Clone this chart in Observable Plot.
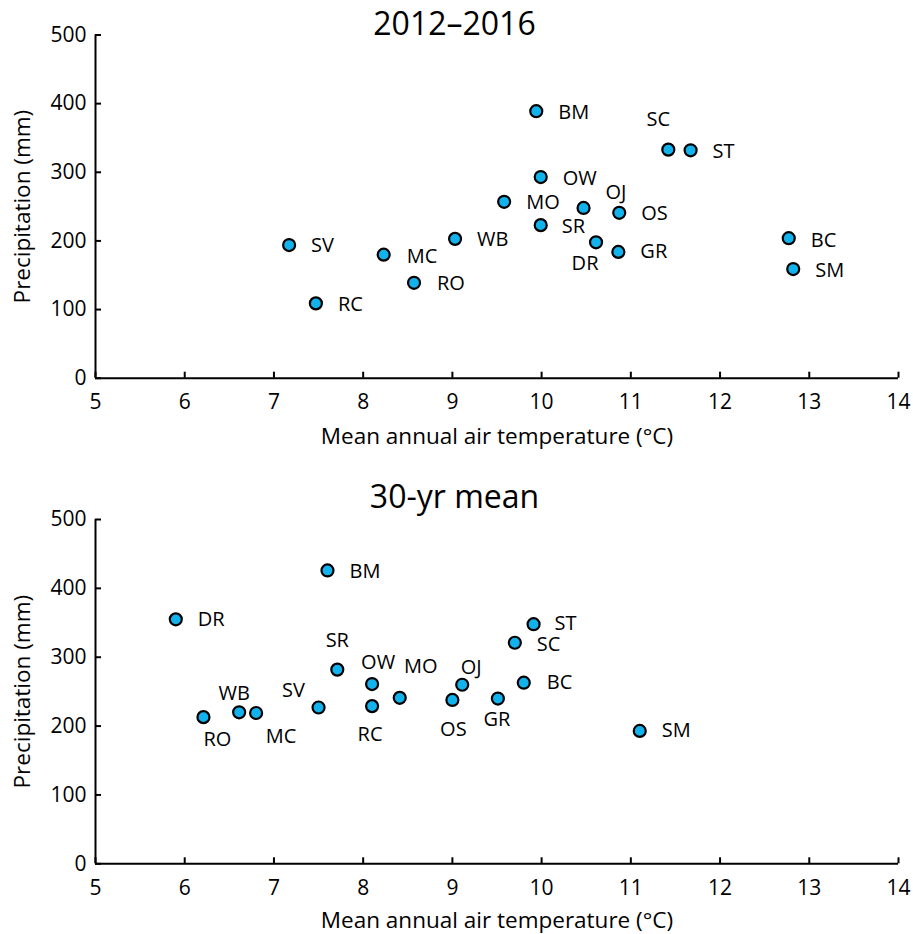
<!DOCTYPE html>
<html><head><meta charset="utf-8">
<script src="https://cdn.jsdelivr.net/npm/d3@7"></script>
<script src="https://cdn.jsdelivr.net/npm/@observablehq/plot@0.6"></script>
<style>body{margin:0;background:#fff;} svg{display:block}</style>
</head><body><div id="c"></div>
<script>
// ---- data ----
const xTicks = [5, 6, 7, 8, 9, 10, 11, 12, 13, 14];
const yTicks = [0, 100, 200, 300, 400, 500];

const title1 = "2012–2016";
const sites1  = ["SV","RC","MC","RO","WB","BM","SC","ST","OW","MO","OJ","OS","SR","DR","GR","BC","SM"];
const temp1   = [7.17,7.47,8.23,8.57,9.03,9.94,11.42,11.67,9.99,9.58,10.47,10.87,9.99,10.61,10.86,12.77,12.82];
const precip1 = [194,109,180,139,203,389,333,332,293,257,248,241,223,198,184,204,159];

const title2 = "30-yr mean";
const sites2  = ["DR","BM","RO","WB","MC","SV","SR","OW","RC","MO","OS","OJ","GR","ST","SC","BC","SM"];
const temp2   = [5.90,7.60,6.21,6.61,6.80,7.50,7.71,8.10,8.10,8.41,9.00,9.11,9.51,9.91,9.70,9.80,11.10];
const precip2 = [355,426,213,220,219,227,282,261,229,241,238,260,240,348,321,263,193];

const yLabel = "Precipitation (mm)";
const xLabel = "Mean annual air temperature (°C)";

// ---- label placement (layout, px offsets from each dot) ----
const R = [22, 1, "start"];
const place1 = {SV:R, RC:R, MC:[23,2,"start"], RO:[23,1,"start"], WB:R, BM:R, SC:[-10,-30,"middle"],
  ST:R, OW:[22,2,"start"], MO:R, OJ:[22,-15,"start"], OS:R, SR:[21,1,"start"], DR:[-11,21,"middle"],
  GR:[22,0,"start"], BC:[22,2,"start"], SM:[22,2,"start"]};
const place2 = {DR:[22,0,"start"], BM:R, RO:[14,22,"middle"], WB:[-5,-19,"middle"], MC:[25,24,"middle"],
  SV:[-25,-17,"middle"], SR:[0,-29,"middle"], OW:[6,-21,"middle"], RC:[-2,28,"middle"], MO:[21,-31,"middle"],
  OS:[1,30,"middle"], OJ:[9,-17,"middle"], GR:[-1,21,"middle"], ST:[21,-1,"start"], SC:[22,2,"start"],
  BC:[23,0,"start"], SM:[22,0,"start"]};

const W = 913, ML = 95, MR = 15;
const FONT = "'Open Sans', sans-serif";

function panel({title, sites, temp, precip, place, height, marginTop, marginBottom, titleDy, xLabelDy}) {
  const data = sites.map((s, i) => ({site: s, t: temp[i], p: precip[i]}));
  const plotH = height - marginTop - marginBottom;
  const plotW = W - ML - MR;
  const labels = data.map(d => {
    const [dx, dy, anchor] = place[d.site];
    return Plot.text([d], {x: "t", y: "p", text: "site", dx, dy, textAnchor: anchor, fill: "#000", fontSize: 20});
  });
  return Plot.plot({
    width: W, height, marginLeft: ML, marginRight: MR, marginTop, marginBottom,
    style: {fontFamily: FONT, fontSize: "20px", color: "#000", background: "#fff", overflow: "visible"},
    x: {domain: [5, 14]},
    y: {domain: [0, 500]},
    marks: [
      Plot.axisX(xTicks, {tickSize: 0, tickPadding: 16, label: null, fontSize: 21, fill: "#000"}),
      Plot.axisY(yTicks, {tickSize: 0, tickPadding: 9, label: null, fontSize: 21, fill: "#000"}),
      Plot.tickX(xTicks, {x: d => d, insetTop: plotH - 6, stroke: "#000", strokeWidth: 2}),
      Plot.tickY(yTicks, {y: d => d, insetRight: plotW - 6, stroke: "#000", strokeWidth: 2}),
      Plot.ruleY([0], {stroke: "#000", strokeWidth: 2}),
      Plot.ruleX([5], {stroke: "#000", strokeWidth: 2}),
      Plot.dot(data, {x: "t", y: "p", r: 6, fill: "#12b2ec", stroke: "#000", strokeWidth: 2.2}),
      ...labels,
      Plot.text([title], {frameAnchor: "top", dx: 454 - (ML + plotW / 2), dy: titleDy, lineAnchor: "middle", textAnchor: "middle", fontSize: 32, fill: "#000"}),
      Plot.text([yLabel], {frameAnchor: "left", dx: -73, rotate: -90, textAnchor: "middle", lineAnchor: "middle", fontSize: 22.5, fill: "#000"}),
      Plot.text([xLabel], {frameAnchor: "bottom", dy: xLabelDy, textAnchor: "middle", lineAnchor: "middle", fontSize: 22.5, fill: "#000"})
    ]
  });
}

const c = document.getElementById("c");
c.append(panel({title: title1, sites: sites1, temp: temp1, precip: precip1, place: place1,
  height: 468, marginTop: 34.5, marginBottom: 90.3, titleDy: -10.5, xLabelDy: 59}));
c.append(panel({title: title2, sites: sites2, temp: temp2, precip: precip2, place: place2,
  height: 466, marginTop: 51, marginBottom: 70.7, titleDy: -22, xLabelDy: 57}));
</script>
</body></html>
